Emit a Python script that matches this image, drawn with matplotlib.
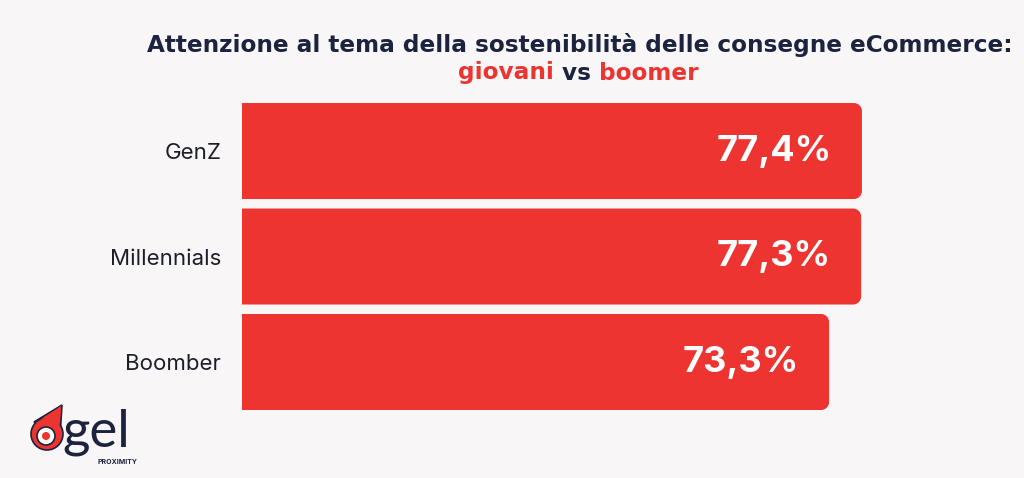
import matplotlib.pyplot as plt
from matplotlib.patches import PathPatch, Circle, Polygon
from matplotlib.path import Path

# dati
generazioni = ["GenZ", "Millennials", "Boomber"]
valori = [77.4, 77.3, 73.3]
etichette = ["77,4%", "77,3%", "73,3%"]

ROSSO = "#ee3431"
BLU = "#1b2340"
SFONDO = "#f9f6f7"

plt.rcParams['font.family'] = ['Inter', 'DejaVu Sans']

fig = plt.figure(figsize=(10.24, 4.78), dpi=100, facecolor=SFONDO)
ax = fig.add_axes([0.2363, 0.1323, 0.7822, 0.6621])
ax.set_facecolor(SFONDO)

y = list(range(len(generazioni)))
barre = ax.barh(y, valori, height=0.91, color=ROSSO)
ax.set_xlim(0, 100)
ax.set_ylim(2.5, -0.5)


def barra_arrotondata(x0, y0, w, h, rx, ry):
    # rettangolo con angoli arrotondati solo a destra
    k = 0.45
    x1, y1 = x0 + w, y0 + h
    verts = [(x0, y0), (x1 - rx, y0),
             (x1 - rx * k, y0), (x1, y0 + ry * k), (x1, y0 + ry),
             (x1, y1 - ry),
             (x1, y1 - ry * k), (x1 - rx * k, y1), (x1 - rx, y1),
             (x0, y1), (x0, y0)]
    codes = [Path.MOVETO, Path.LINETO,
             Path.CURVE4, Path.CURVE4, Path.CURVE4,
             Path.LINETO,
             Path.CURVE4, Path.CURVE4, Path.CURVE4,
             Path.LINETO, Path.CLOSEPOLY]
    return Path(verts, codes)


rx = 8 / (801 / 100)
ry = 8 / (316.5 / 3)
for b in barre:
    b.set_visible(False)
    p = barra_arrotondata(b.get_x(), b.get_y(), b.get_width(), b.get_height(), rx, ry)
    ax.add_patch(PathPatch(p, fc=ROSSO, ec="none"))

for yi, v, t in zip(y, valori, etichette):
    ax.annotate(t, (v, yi), xytext=(-30, 0), textcoords='offset pixels',
                ha='right', va='center', color='white', fontsize=26, fontweight='bold')

ax.set_yticks(y)
ax.set_yticklabels(generazioni, fontsize=16, color="#1e1e2a")
ax.tick_params(axis='y', length=0, pad=15)
ax.set_xticks([])
for s in ax.spines.values():
    s.set_visible(False)

# titolo
r = fig.canvas.get_renderer()
tit = fig.text(580 / 1024, 1 - 45 / 478, "Attenzione al tema della sostenibilità delle consegne eCommerce:",
               ha='center', va='center', fontsize=15, fontweight='bold', color=BLU,
               family='DejaVu Sans')
fs = 15 * 865 / tit.get_window_extent(r).width
tit.set_fontsize(fs)

parti = [("giovani", ROSSO), (" vs ", BLU), ("boomer", ROSSO)]
testi = []
for s, c in parti:
    testi.append(fig.text(0, 1 - 73 / 478, s, ha='left', va='center', fontsize=fs,
                          fontweight='bold', color=c, family='DejaVu Sans'))
larg = [t.get_window_extent(r).width for t in testi]
x = 578 - sum(larg) / 2
for t, w in zip(testi, larg):
    t.set_x(x / 1024)
    x += w

# logo
lx = fig.add_axes([0, 0, 1, 1], facecolor='none')
lx.set_xlim(0, 1024)
lx.set_ylim(478, 0)
lx.axis('off')
lx.add_patch(Polygon([(34, 422), (62, 405), (60, 436)], closed=True, fc=ROSSO, ec=BLU, lw=1.2))
lx.add_patch(Circle((47, 434), 16, fc=ROSSO, ec=BLU, lw=1.2))
lx.add_patch(Polygon([(36, 423), (61, 406), (59, 432)], closed=True, fc=ROSSO, ec='none'))
lx.add_patch(Circle((46, 436), 9, fc='white', ec=BLU, lw=1.2))
lx.add_patch(Circle((46, 436), 4, fc=ROSSO, ec='none'))
lx.text(62, 446, "gel", fontsize=38, color=BLU, va='baseline', ha='left', family='Lato')
lx.text(98, 462, "PROXIMITY", fontsize=5, color=BLU, fontweight='bold', ha='left', va='center')

fig.savefig("out.png", dpi=100, facecolor=SFONDO)
